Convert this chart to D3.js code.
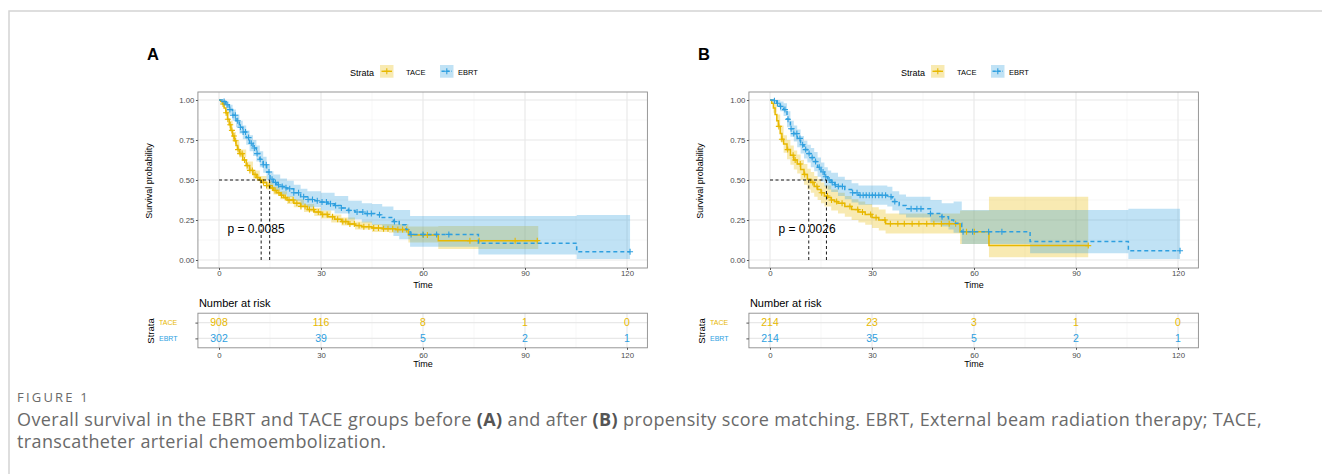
<!DOCTYPE html>
<html>
<head>
<meta charset="utf-8">
<script src="https://cdn.jsdelivr.net/npm/d3@7.9.0/dist/d3.min.js"></script>
<style>
  body { margin: 0; background: #fff; }
  svg { display: block; font-family: "Liberation Sans", Arial, sans-serif; }
</style>
</head>
<body>
<script>
// ---- shared values ----
const groups = ["TACE", "EBRT"];
const groupColors = ["#E7B800", "#2E9FDF"];
const timeTicks = [0, 30, 60, 90, 120];
const timeMinor = [15, 45, 75, 105];
const survTicks = [0, 0.25, 0.5, 0.75, 1];
const survMinor = [0.125, 0.375, 0.625, 0.875];

// ---- panel A (before matching) ----
// step points [time, survival]
const aTaceSurv = [[0,1],[0.5,0.99],[1,0.975],[1.5,0.95],[2,0.92],[2.5,0.88],[3,0.845],[3.5,0.81],[4,0.775],[4.5,0.745],[5,0.715],[5.5,0.69],[6,0.665],[7,0.625],[8,0.59],[9,0.56],[10,0.535],[11,0.515],[12,0.5],[13,0.485],[14,0.465],[15,0.45],[16,0.435],[17,0.42],[18,0.405],[19,0.39],[20,0.375],[22,0.355],[24,0.335],[26,0.315],[28,0.3],[30,0.285],[32,0.27],[34,0.255],[36,0.24],[38,0.225],[40,0.215],[42,0.208],[45,0.2],[48,0.196],[52,0.19],[55.7,0.156],[64.5,0.121],[93.9,0.121]];
const aEbrtSurv = [[0,1],[1,0.99],[2,0.97],[3,0.94],[4,0.905],[5,0.87],[6,0.83],[7,0.8],[8,0.765],[9,0.73],[10,0.7],[11,0.665],[12,0.63],[13,0.595],[14,0.55],[15,0.505],[16,0.485],[17,0.47],[18,0.46],[19,0.452],[20,0.445],[22,0.42],[24,0.395],[26,0.378],[28,0.37],[30,0.362],[32,0.352],[34,0.34],[36,0.325],[38,0.31],[40,0.3],[43,0.29],[46,0.283],[48,0.265],[51.3,0.24],[53,0.22],[55,0.19],[56.2,0.16],[76.3,0.104],[105.2,0.052],[120.9,0.052]];
// confidence bands [time, lower, upper]
const aTaceBand = [[0,1,1],[1,0.965,0.985],[2,0.9,0.94],[3,0.82,0.87],[4,0.75,0.8],[5,0.69,0.74],[6,0.64,0.69],[8,0.565,0.615],[10,0.51,0.56],[12,0.475,0.525],[14,0.44,0.49],[16,0.41,0.46],[18,0.38,0.43],[20,0.35,0.4],[22,0.33,0.38],[25,0.3,0.35],[28,0.275,0.325],[30,0.26,0.31],[33,0.235,0.285],[36,0.215,0.265],[40,0.19,0.24],[45,0.175,0.225],[50,0.17,0.225],[55.7,0.11,0.21],[64.5,0.069,0.212],[93.9,0.069,0.212]];
const aEbrtBand = [[0,1,1],[1,0.975,1],[2,0.945,0.99],[3,0.91,0.97],[4,0.87,0.94],[5,0.83,0.91],[6,0.79,0.87],[7,0.755,0.84],[8,0.72,0.81],[9,0.68,0.78],[10,0.65,0.75],[11,0.615,0.715],[12,0.58,0.68],[13,0.545,0.645],[14,0.5,0.6],[15,0.455,0.555],[16,0.435,0.535],[18,0.41,0.51],[20,0.395,0.495],[22,0.37,0.47],[24,0.345,0.445],[26,0.33,0.43],[30,0.31,0.42],[34,0.29,0.4],[38,0.255,0.37],[42,0.235,0.355],[45,0.22,0.35],[48,0.19,0.335],[51.3,0.15,0.313],[53,0.13,0.313],[56.2,0.083,0.275],[76.3,0.035,0.275],[105.2,0.006,0.281],[120.9,0.006,0.281]];
// censoring times
const aTaceCens = [1.2,2.1,2.6,3.3,3.8,4.4,4.9,5.6,6.2,6.8,7.5,8.3,9.1,9.8,10.6,11.4,12.2,13.1,14.0,14.8,15.7,16.5,17.6,18.4,19.5,20.6,21.8,22.9,24.1,25.3,26.6,27.8,29.2,30.5,31.8,33.4,34.9,36.4,37.3,38.5,39.8,41.2,42.6,44.1,45.5,46.9,48.4,49.7,51.1,52.6,54.0,55.2,60.1,61.3,73.8,76.5,87.1,93.6];
const aEbrtCens = [1.5,2.4,3.2,4.1,4.8,5.5,6.3,7.1,7.8,8.7,9.5,10.4,11.2,12.1,13.0,13.9,14.7,15.6,16.6,17.5,18.6,19.7,20.8,22.0,23.4,24.9,26.2,27.5,28.9,30.3,31.6,32.8,34.3,36.0,38.2,40.6,42.3,43.6,44.8,47.2,51.6,56.5,60.0,64.0,67.6,120.9];
const aMedians = [12.4, 14.9];
const aPValue = "p = 0.0085";
const aRiskTace = [908, 116, 8, 1, 0];
const aRiskEbrt = [302, 39, 5, 2, 1];

// ---- panel B (after matching) ----
const bTaceSurv = [[0,1],[0.5,0.98],[1,0.95],[1.5,0.91],[2,0.87],[2.5,0.835],[3,0.79],[3.5,0.755],[4,0.725],[5,0.69],[6,0.655],[7,0.625],[8,0.6],[9,0.565],[10,0.535],[11,0.505],[12,0.485],[13,0.46],[14,0.44],[15,0.42],[16,0.4],[17,0.39],[18,0.375],[19,0.365],[20,0.355],[22,0.335],[24,0.315],[26,0.3],[28,0.285],[30,0.265],[32,0.25],[34,0.227],[55.9,0.177],[64.4,0.09],[93.6,0.09]];
const bEbrtSurv = [[0,1],[1,0.995],[2,0.98],[3,0.96],[4,0.94],[5,0.88],[6,0.82],[7,0.79],[8,0.76],[9,0.72],[10,0.69],[11,0.665],[12,0.64],[13,0.615],[14,0.58],[15,0.55],[16,0.52],[17,0.5],[18,0.485],[19,0.47],[20,0.46],[22,0.44],[24,0.42],[26,0.405],[34.5,0.395],[36,0.365],[38,0.34],[40,0.32],[47.2,0.29],[50.5,0.27],[52.5,0.25],[54,0.229],[56.4,0.177],[76.5,0.115],[105.4,0.058],[120.6,0.058]];
const bTaceBand = [[0,1,1],[1,0.92,0.98],[2,0.83,0.91],[3,0.74,0.84],[4,0.67,0.78],[5,0.63,0.75],[6,0.595,0.715],[7,0.565,0.685],[8,0.54,0.66],[9,0.5,0.625],[10,0.47,0.6],[11,0.44,0.57],[12,0.42,0.55],[13,0.395,0.525],[14,0.375,0.505],[15,0.355,0.485],[16,0.335,0.465],[18,0.31,0.44],[20,0.29,0.42],[22,0.27,0.4],[24,0.25,0.38],[26,0.235,0.365],[28,0.22,0.35],[30,0.2,0.33],[32,0.185,0.315],[34,0.165,0.29],[55.9,0.1,0.31],[64.4,0.017,0.396],[93.6,0.017,0.396]];
const bEbrtBand = [[0,1,1],[1,0.985,1],[2,0.96,1],[3,0.93,0.99],[4,0.9,0.98],[5,0.83,0.93],[6,0.77,0.87],[7,0.74,0.84],[8,0.705,0.815],[9,0.665,0.775],[10,0.635,0.745],[11,0.61,0.72],[12,0.58,0.7],[13,0.555,0.675],[14,0.52,0.64],[15,0.49,0.61],[16,0.46,0.58],[17,0.44,0.56],[18,0.425,0.545],[20,0.4,0.52],[22,0.38,0.5],[24,0.36,0.48],[26,0.345,0.465],[34.5,0.335,0.458],[36,0.31,0.43],[38,0.285,0.41],[40,0.265,0.396],[47.2,0.235,0.375],[50.5,0.21,0.354],[52.5,0.19,0.354],[54,0.17,0.365],[56.4,0.1,0.3125],[76.5,0.042,0.3125],[105.4,0.006,0.32],[120.6,0.006,0.32]];
const bTaceCens = [2.6,3.5,5.2,6.8,7.4,8.9,10.2,12.6,13.8,15.2,16.9,18.1,19.6,21.2,23.5,25.8,27.2,29.6,31.2,33.8,35.4,37.6,39.5,41.8,43.8,46.1,48.2,50.4,52.7,54.6,57.8,60.1,93.6];
const bEbrtCens = [1.3,2.2,3.1,4.4,5.3,6.2,7.0,7.9,8.8,9.6,10.5,11.5,12.4,13.4,14.5,15.6,16.4,17.4,18.3,19.2,20.1,21.3,24.3,25.6,26.5,27.4,28.3,29.2,30.1,31.0,32.0,33.0,34.0,35.6,36.7,41.5,43.2,44.4,47.2,50.6,56.8,59.6,64.3,68.2,120.6];
const bMedians = [11.4, 16.6];
const bPValue = "p = 0.0026";
const bRiskTace = [214, 23, 3, 1, 0];
const bRiskEbrt = [214, 35, 5, 2, 1];

const captionHead = "FIGURE 1";

// ---- svg ----
const svg = d3.select("body").append("svg").attr("width", 1322).attr("height", 474);

// outer frame of the figure box
svg.append("path").attr("d", "M9,474V11H1322").attr("fill", "none").attr("stroke", "#d4d4d4").attr("stroke-width", 1.5);

function survAt(curve, t) {
  let v = curve[0][1];
  for (const p of curve) { if (p[0] <= t) v = p[1]; }
  return v;
}

function styleAxis(a, size) {
  a.attr("font-family", null).attr("font-size", null);
  a.select(".domain").remove();
  a.selectAll("line").attr("stroke", "#555");
  a.selectAll("text").attr("font-size", size).attr("fill", "#4d4d4d");
}

function drawPanel(p) {
  const ox = p.offset;
  const x = d3.scaleLinear().domain([0, 120]).range([219 + ox, 627 + ox]);
  const y = d3.scaleLinear().domain([0, 1]).range([260, 100]);
  const px0 = x(-6.2), px1 = x(126);
  const py0 = y(1.05), py1 = y(-0.05);
  const g = svg.append("g");

  g.append("text").attr("x", 147 + ox).attr("y", 60)
    .attr("font-size", 16.5).attr("font-weight", "bold").text(p.label);

  // legend
  g.append("text").attr("x", 350 + ox).attr("y", 75.5).attr("font-size", 9).text("Strata");
  const legX = [380, 440];
  const legTextX = [406, 458];
  groups.forEach((name, i) => {
    const lx = legX[i] + ox;
    g.append("rect").attr("x", lx).attr("y", 65).attr("width", 13.5).attr("height", 12.7)
      .attr("fill", groupColors[i]).attr("fill-opacity", 0.3);
    g.append("line").attr("x1", lx + 1.5).attr("x2", lx + 12).attr("y1", 71.3).attr("y2", 71.3)
      .attr("stroke", groupColors[i]).attr("stroke-width", 1.4)
      .attr("stroke-dasharray", i === 1 ? "3,2" : null);
    g.append("path").attr("d", `M${lx + 3.8},71.3h6M${lx + 6.8},68.3v6`)
      .attr("stroke", groupColors[i]).attr("stroke-width", 1.1);
    g.append("text").attr("x", legTextX[i] + ox).attr("y", 74.5).attr("font-size", 7.5).text(name);
  });

  // grid
  const grid = g.append("g");
  grid.selectAll(".vmin").data(timeMinor).join("line")
    .attr("x1", d => x(d)).attr("x2", d => x(d)).attr("y1", py0).attr("y2", py1)
    .attr("stroke", "#f2f2f2").attr("stroke-width", 0.6);
  grid.selectAll(".hmin").data(survMinor).join("line")
    .attr("x1", px0).attr("x2", px1).attr("y1", d => y(d)).attr("y2", d => y(d))
    .attr("stroke", "#f2f2f2").attr("stroke-width", 0.6);
  grid.selectAll(".vmaj").data(timeTicks).join("line")
    .attr("x1", d => x(d)).attr("x2", d => x(d)).attr("y1", py0).attr("y2", py1)
    .attr("stroke", "#e8e8e8").attr("stroke-width", 1.1);
  grid.selectAll(".hmaj").data(survTicks).join("line")
    .attr("x1", px0).attr("x2", px1).attr("y1", d => y(d)).attr("y2", d => y(d))
    .attr("stroke", "#e8e8e8").attr("stroke-width", 1.1);

  // confidence bands
  const area = d3.area().curve(d3.curveStepAfter)
    .x(d => x(d[0])).y0(d => y(d[1])).y1(d => y(d[2]));
  [p.taceBand, p.ebrtBand].forEach((band, i) => {
    g.append("path").attr("d", area(band)).attr("fill", groupColors[i]).attr("fill-opacity", 0.3);
  });

  // survival curves
  const line = d3.line().curve(d3.curveStepAfter).x(d => x(d[0])).y(d => y(d[1]));
  const curves = [p.taceSurv, p.ebrtSurv];
  const cens = [p.taceCens, p.ebrtCens];
  curves.forEach((c, i) => {
    g.append("path").attr("d", line(c)).attr("fill", "none")
      .attr("stroke", groupColors[i]).attr("stroke-width", 1.5)
      .attr("stroke-dasharray", i === 1 ? "4,3" : null);
    g.append("g").selectAll("path").data(cens[i]).join("path")
      .attr("d", t => `M${x(t) - 3},${y(survAt(c, t))}h6M${x(t)},${y(survAt(c, t)) - 3}v6`)
      .attr("stroke", groupColors[i]).attr("stroke-width", 1.1);
  });

  // median lines
  const medMax = d3.max(p.medians);
  g.append("line").attr("x1", x(0)).attr("x2", x(medMax)).attr("y1", y(0.5)).attr("y2", y(0.5))
    .attr("stroke", "#000").attr("stroke-width", 0.9).attr("stroke-dasharray", "3,2.5");
  g.selectAll(".med").data(p.medians).join("line")
    .attr("x1", d => x(d)).attr("x2", d => x(d)).attr("y1", y(0.5)).attr("y2", y(0))
    .attr("stroke", "#000").attr("stroke-width", 0.9).attr("stroke-dasharray", "3,2.5");

  g.append("text").attr("x", x(2.5)).attr("y", 233).attr("font-size", 12).text(p.pValue);

  // border
  g.append("rect").attr("x", px0).attr("y", py0).attr("width", px1 - px0).attr("height", py1 - py0)
    .attr("fill", "none").attr("stroke", "#8c8c8c").attr("stroke-width", 0.9);

  // axes
  const xAxis = g.append("g").attr("transform", `translate(0,${py1})`)
    .call(d3.axisBottom(x).tickValues(timeTicks).tickSize(2).tickPadding(0.5));
  const yAxis = g.append("g").attr("transform", `translate(${px0},0)`)
    .call(d3.axisLeft(y).tickValues(survTicks).tickFormat(d3.format(".2f")).tickSize(2).tickPadding(1.5));
  styleAxis(xAxis, 7.8);
  styleAxis(yAxis, 7.8);
  g.append("text").attr("x", x(60)).attr("y", 288).attr("text-anchor", "middle")
    .attr("font-size", 9).text("Time");
  g.append("text").attr("transform", `translate(${151.5 + ox},181) rotate(-90)`)
    .attr("text-anchor", "middle").attr("font-size", 9).text("Survival probability");

  // ---- risk table ----
  const ry = d3.scalePoint().domain(groups).range([322.6, 338.4]);
  const ty0 = 313.2, ty1 = 347.8;
  g.append("text").attr("x", px0 + 1).attr("y", 306.7).attr("font-size", 11).text("Number at risk");
  const rg = g.append("g");
  rg.selectAll(".rvmin").data(timeMinor).join("line")
    .attr("x1", d => x(d)).attr("x2", d => x(d)).attr("y1", ty0).attr("y2", ty1)
    .attr("stroke", "#f2f2f2").attr("stroke-width", 0.6);
  rg.selectAll(".rvmaj").data(timeTicks).join("line")
    .attr("x1", d => x(d)).attr("x2", d => x(d)).attr("y1", ty0).attr("y2", ty1)
    .attr("stroke", "#e8e8e8").attr("stroke-width", 1.1);
  rg.selectAll(".rh").data(groups).join("line")
    .attr("x1", px0).attr("x2", px1).attr("y1", d => ry(d)).attr("y2", d => ry(d))
    .attr("stroke", "#e8e8e8").attr("stroke-width", 1.1);
  const risks = [p.riskTace, p.riskEbrt];
  groups.forEach((name, i) => {
    rg.selectAll(".rn" + i).data(risks[i]).join("text")
      .attr("x", (d, j) => x(timeTicks[j])).attr("y", ry(name) + 3.7)
      .attr("text-anchor", "middle").attr("font-size", 10.5).attr("fill", groupColors[i])
      .text(d => d);
  });
  rg.append("rect").attr("x", px0).attr("y", ty0).attr("width", px1 - px0).attr("height", ty1 - ty0)
    .attr("fill", "none").attr("stroke", "#8c8c8c").attr("stroke-width", 0.9);
  const rxAxis = rg.append("g").attr("transform", `translate(0,${ty1})`)
    .call(d3.axisBottom(x).tickValues(timeTicks).tickSize(2).tickPadding(2.5));
  const ryAxis = rg.append("g").attr("transform", `translate(${px0},0)`)
    .call(d3.axisLeft(ry).tickSize(2.5).tickPadding(17));
  styleAxis(rxAxis, 7.8);
  styleAxis(ryAxis, 7);
  ryAxis.selectAll("text").attr("text-anchor", "start").attr("x", 159 + ox - px0)
    .attr("fill", (d, i) => groupColors[i]);
  rg.append("text").attr("x", x(60)).attr("y", 367).attr("text-anchor", "middle")
    .attr("font-size", 9).text("Time");
  rg.append("text").attr("transform", `translate(${154 + ox},331) rotate(-90)`)
    .attr("text-anchor", "middle").attr("font-size", 9.5).text("Strata");
}

drawPanel({ offset: 0, label: "A", taceSurv: aTaceSurv, ebrtSurv: aEbrtSurv, taceBand: aTaceBand, ebrtBand: aEbrtBand,
  taceCens: aTaceCens, ebrtCens: aEbrtCens, medians: aMedians, pValue: aPValue, riskTace: aRiskTace, riskEbrt: aRiskEbrt });
drawPanel({ offset: 551, label: "B", taceSurv: bTaceSurv, ebrtSurv: bEbrtSurv, taceBand: bTaceBand, ebrtBand: bEbrtBand,
  taceCens: bTaceCens, ebrtCens: bEbrtCens, medians: bMedians, pValue: bPValue, riskTace: bRiskTace, riskEbrt: bRiskEbrt });

// ---- caption ----
const cap = svg.append("g").attr("font-family", "'Open Sans', 'Noto Sans', sans-serif").attr("fill", "#6a6a6a");
cap.append("text").attr("x", 17).attr("y", 402).attr("font-size", 13).attr("letter-spacing", 2.2).text(captionHead);
const line1 = cap.append("text").attr("x", 17).attr("y", 426).attr("font-size", 18);
line1.append("tspan").text("Overall survival in the EBRT and TACE groups before ");
line1.append("tspan").attr("font-weight", "bold").attr("fill", "#555").text("(A)");
line1.append("tspan").text(" and after ");
line1.append("tspan").attr("font-weight", "bold").attr("fill", "#555").text("(B)");
line1.append("tspan").text(" propensity score matching. EBRT, External beam radiation therapy; TACE,");
const line2 = cap.append("text").attr("x", 17).attr("y", 448).attr("font-size", 18).text("transcatheter arterial chemoembolization.");

// stretch the caption to the width of the original text block
const natural = line1.node().getComputedTextLength();
const nChars = line1.text().length;
const spacing = (1245 - natural) / nChars;
line1.attr("letter-spacing", spacing);
line2.attr("letter-spacing", spacing);
</script>
</body>
</html>
